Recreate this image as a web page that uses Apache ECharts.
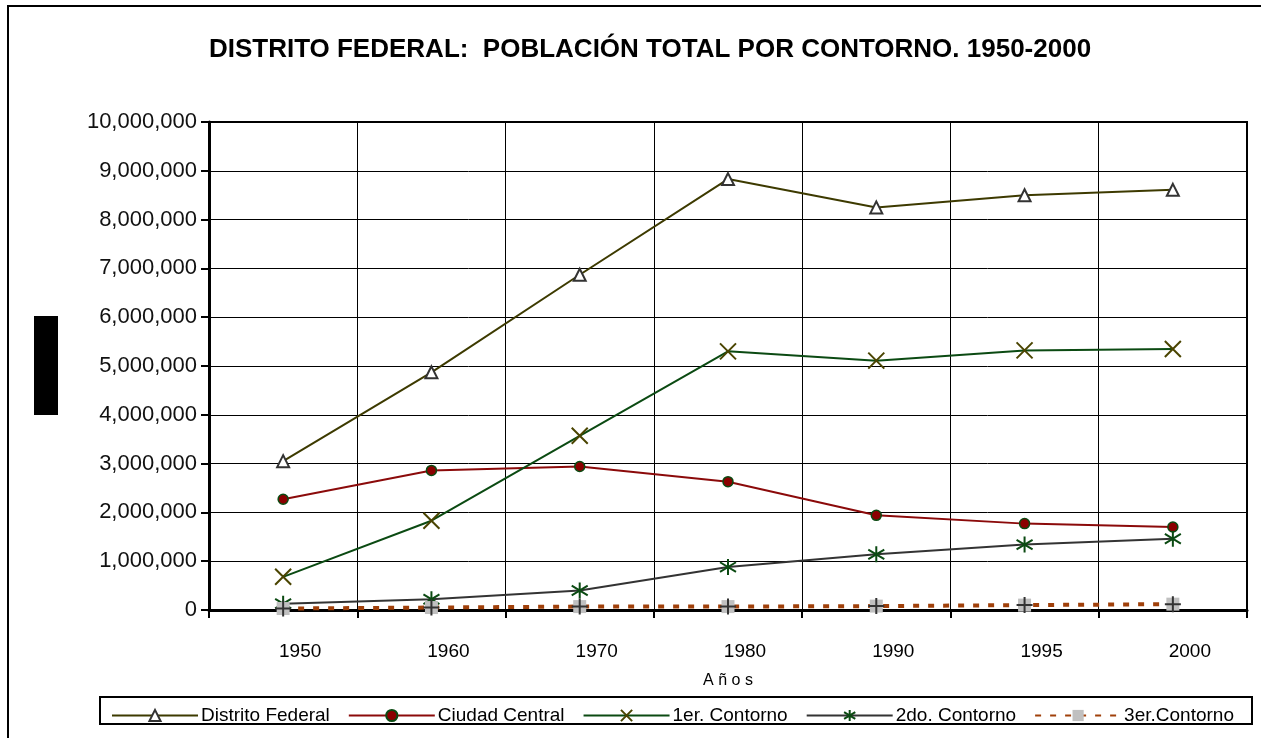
<!DOCTYPE html>
<html>
<head>
<meta charset="utf-8">
<script src="https://cdn.jsdelivr.net/npm/echarts@6/dist/echarts.min.js"></script>
<style>
  html, body { margin: 0; padding: 0; background: #fff; }
  #chart { width: 1261px; height: 738px; }
</style>
</head>
<body>
<div id="chart"></div>
<script>
// años
const years = ['1950', '1960', '1970', '1980', '1990', '1995', '2000']
// población por contorno
const distritoFederal = [3050000, 4870000, 6870000, 8830000, 8250000, 8500000, 8610000]
const ciudadCentral = [2270000, 2860000, 2940000, 2630000, 1940000, 1770000, 1700000]
const primerContorno = [680000, 1830000, 3570000, 5300000, 5110000, 5320000, 5350000]
const segundoContorno = [130000, 220000, 400000, 880000, 1140000, 1340000, 1460000]
const tercerContorno = [30000, 50000, 70000, 70000, 80000, 100000, 120000]

const font = 'Liberation Sans, Arial, sans-serif'
const fmt = v => String(v).replace(/\B(?=(\d{3})+(?!\d))/g, ',')

const chart = echarts.init(document.getElementById('chart'))

chart.setOption({
  animation: false,
  backgroundColor: '#fff',
  textStyle: { fontFamily: font },
  title: {
    text: 'DISTRITO FEDERAL:  POBLACIÓN TOTAL POR CONTORNO. 1950-2000',
    left: 645,
    textAlign: 'center',
    top: 32,
    textStyle: { fontSize: 26, fontWeight: 'bold', color: '#000', fontFamily: font }
  },
  graphic: [
    // marco exterior
    { type: 'rect', shape: { x: 8, y: 6, width: 1300, height: 800 }, style: { fill: 'none', stroke: '#000', lineWidth: 2 } },
    // título del eje y (bloque negro)
    { type: 'rect', shape: { x: 34, y: 316, width: 24, height: 99 }, style: { fill: '#000' } },
    // caja de la leyenda
    { type: 'rect', shape: { x: 100, y: 697, width: 1152, height: 27 }, style: { fill: 'none', stroke: '#000', lineWidth: 2 } }
  ],
  legend: {
    left: 106,
    top: 701,
    width: 1200,
    itemWidth: 86,
    itemHeight: 14,
    itemGap: 18,
    textStyle: { fontSize: 19, color: '#000', fontFamily: font, padding: [0, 0, 0, -2] },
    data: ['Distrito Federal', 'Ciudad Central', '1er. Contorno', '2do. Contorno', '3er.Contorno']
  },
  grid: {
    left: 209,
    right: 14,
    top: 122,
    bottom: 128,
    show: true,
    borderColor: '#000',
    borderWidth: 2
  },
  xAxis: {
    type: 'category',
    data: years,
    boundaryGap: true,
    name: 'A ñ o s',
    nameLocation: 'middle',
    nameGap: 63,
    nameTextStyle: { fontSize: 16, color: '#000', fontFamily: font },
    axisLine: { lineStyle: { color: '#000', width: 3 } },
    axisTick: { show: true, length: 8, lineStyle: { color: '#000', width: 2 } },
    axisLabel: { fontSize: 19, color: '#000', margin: 32, padding: [0, 0, 0, 34], fontFamily: font },
    splitLine: { show: true, lineStyle: { color: '#000', width: 1 } }
  },
  yAxis: {
    type: 'value',
    min: 0,
    max: 10000000,
    interval: 1000000,
    axisLine: { show: true, lineStyle: { color: '#000', width: 3 } },
    axisTick: { show: true, length: 8, lineStyle: { color: '#000', width: 2 } },
    axisLabel: { fontSize: 22, color: '#111', margin: 12, formatter: fmt, fontFamily: font },
    splitLine: { show: true, lineStyle: { color: '#000', width: 1 } }
  },
  series: [
    {
      name: 'Distrito Federal',
      type: 'line',
      data: distritoFederal,
      symbol: 'triangle',
      symbolSize: 12,
      lineStyle: { color: '#3d3a00', width: 2 },
      itemStyle: { color: '#fff', borderColor: '#333', borderWidth: 2 }
    },
    {
      name: 'Ciudad Central',
      type: 'line',
      data: ciudadCentral,
      symbol: 'circle',
      symbolSize: 10,
      lineStyle: { color: '#8b0a0a', width: 2 },
      itemStyle: { color: '#8b0000', borderColor: '#0b4a12', borderWidth: 1.5 }
    },
    {
      name: '1er. Contorno',
      type: 'line',
      data: primerContorno,
      symbol: 'path://M0,0L10,10M10,0L0,10',
      symbolSize: 16,
      lineStyle: { color: '#0b4a12', width: 2 },
      itemStyle: { color: '#4a4400', borderColor: '#4a4400', borderWidth: 2 }
    },
    {
      name: '2do. Contorno',
      type: 'line',
      data: segundoContorno,
      symbol: 'path://M5,0L5,10M0,2L10,8M0,8L10,2',
      symbolSize: 16,
      lineStyle: { color: '#333', width: 2 },
      itemStyle: { color: '#0b4a12', borderColor: '#0b4a12', borderWidth: 2 }
    },
    {
      name: '3er.Contorno',
      type: 'line',
      data: tercerContorno,
      symbol: 'rect',
      symbolSize: 13,
      lineStyle: { color: '#a0400a', width: 4, type: [6, 9] },
      itemStyle: { color: '#c0c0c0' },
      z: 3
    },
    {
      name: '3er.Contorno',
      type: 'line',
      data: tercerContorno,
      symbol: 'path://M5,0L5,12M0,6L10,6',
      symbolSize: 16,
      lineStyle: { width: 0 },
      itemStyle: { color: '#333', borderColor: '#333', borderWidth: 2 },
      z: 4
    }
  ]
})
</script>
</body>
</html>
